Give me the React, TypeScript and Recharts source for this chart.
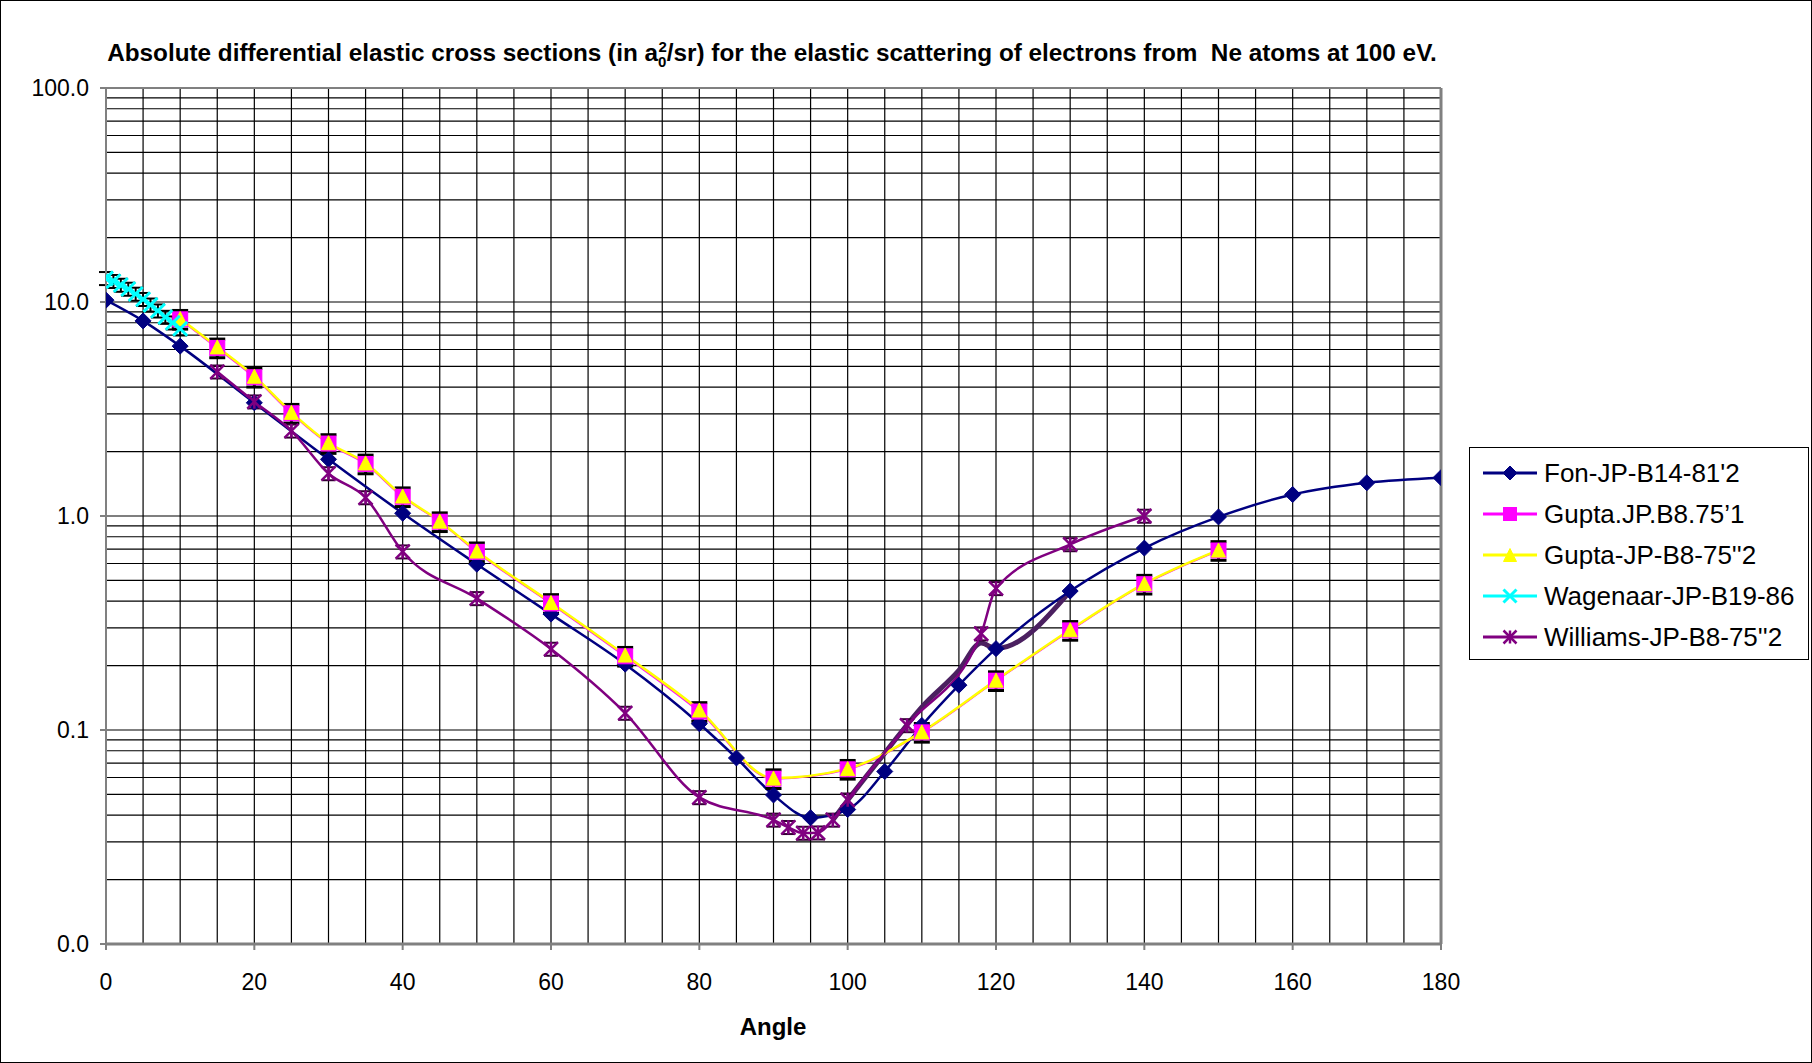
import React from "react";
import { LineChart, Line, XAxis, YAxis, CartesianGrid, ErrorBar, ReferenceLine } from "recharts";

// Fon-JP-B14-81'2
const fonAngles = [0, 5, 10, 20, 30, 40, 50, 60, 70, 80, 85, 90, 95, 100, 105, 110, 115, 120, 130, 140, 150, 160, 170, 180];
const fonValues = [10.2, 8.16, 6.22, 3.38, 1.84, 1.03, 0.595, 0.348, 0.203, 0.107, 0.074, 0.0497, 0.0389, 0.0425, 0.064, 0.105, 0.162, 0.24, 0.446, 0.708, 0.99, 1.26, 1.43, 1.51];

// Gupta (two data sets, almost on top of each other)
const guptaAngles = [10, 15, 20, 25, 30, 35, 40, 45, 50, 60, 70, 80, 90, 100, 110, 120, 130, 140, 150];
const gupta1Values = [8.3, 6.1, 4.45, 3.02, 2.18, 1.75, 1.23, 0.94, 0.68, 0.39, 0.221, 0.122, 0.0592, 0.0655, 0.0975, 0.17, 0.292, 0.48, 0.69];
const gupta2Values = [8.37, 6.17, 4.5, 3.05, 2.2, 1.77, 1.24, 0.946, 0.686, 0.394, 0.224, 0.124, 0.0596, 0.066, 0.098, 0.171, 0.294, 0.483, 0.693];

// Wagenaar-JP-B19-86
const wagenaarAngles = [0, 1, 2, 3, 4, 5, 6, 7, 8, 9, 10];
const wagenaarValues = [12.9, 12.5, 12.0, 11.5, 10.9, 10.3, 9.7, 9.1, 8.5, 8.0, 7.5];

// Williams-JP-B8-75''2
const williamsAngles = [15, 20, 25, 30, 35, 40, 50, 60, 70, 80, 90, 92, 94, 96, 98, 100, 108, 118, 120, 130, 140];
const williamsValues = [4.72, 3.42, 2.5, 1.58, 1.22, 0.681, 0.412, 0.239, 0.12, 0.0484, 0.038, 0.0351, 0.033, 0.0331, 0.038, 0.0472, 0.105, 0.282, 0.459, 0.736, 1.0];

// unlabelled thick curve (no legend entry)
const extraAngles = [98, 100, 105, 110, 115, 118, 120, 130];
const extraValues = [0.038, 0.047, 0.078, 0.128, 0.19, 0.255, 0.24, 0.446];

// error bar settings (percent of value)
const GUPTA_ERR = 0.1;
const WILLIAMS_ERR = 0.07;
const WAGENAAR_ERR = 0.07;

const yMajorTicks = [0.01, 0.1, 1, 10, 100];
const yMinorSteps = [2, 3, 4, 5, 6, 7, 8, 9];
const yGridTicks = yMajorTicks.flatMap((d) => (d === 100 ? [d] : [d, ...yMinorSteps.map((m) => +(d * m).toPrecision(3))]));
const xMajorTicks = [0, 20, 40, 60, 80, 100, 120, 140, 160, 180];
const xGridTicks = Array.from({ length: 37 }, (_, i) => i * 5);

const FONT = '"Liberation Sans", Arial, sans-serif';
const W = 1812;
const H = 1063;
const PLOT_LEFT = 106;
const PLOT_TOP = 88;
const PLOT_RIGHT = 1441;
const PLOT_BOTTOM = 944;
const Y_AXIS_W = 90;
const X_AXIS_H = 60;

const fonData = fonAngles.map((x, i) => ({ x, y: fonValues[i] }));
const gupta1Data = guptaAngles.map((x, i) => ({ x, y: gupta1Values[i], err: gupta1Values[i] * GUPTA_ERR }));
const gupta2Data = guptaAngles.map((x, i) => ({ x, y: gupta2Values[i] }));
const wagenaarData = wagenaarAngles.map((x, i) => ({ x, y: wagenaarValues[i], err: wagenaarValues[i] * WAGENAAR_ERR }));
const williamsData = williamsAngles.map((x, i) => ({ x, y: williamsValues[i], err: williamsValues[i] * WILLIAMS_ERR }));
const extraData = extraAngles.map((x, i) => ({ x, y: extraValues[i] }));

const NAVY = "#000080";
const PINK = "#FF00FF";
const YELLOW = "#FFFF00";
const CYAN = "#00FFFF";
const PURPLE = "#800080";

type M = { cx: number; cy: number; s?: number };

const Diamond = ({ cx, cy, s = 8 }: M) => (
  <polygon points={`${cx},${cy - s} ${cx + s},${cy} ${cx},${cy + s} ${cx - s},${cy}`} fill={NAVY} stroke={NAVY} />
);
const Square = ({ cx, cy, s = 7.5 }: M) => (
  <rect x={cx - s} y={cy - s} width={2 * s} height={2 * s} fill={PINK} stroke={PINK} />
);
const Triangle = ({ cx, cy, s = 7 }: M) => (
  <polygon points={`${cx},${cy - s} ${cx + s},${cy + s} ${cx - s},${cy + s}`} fill={YELLOW} stroke={YELLOW} />
);
const Cross = ({ cx, cy, s = 7 }: M) => (
  <g stroke={CYAN} strokeWidth={3}>
    <line x1={cx - s} y1={cy - s} x2={cx + s} y2={cy + s} />
    <line x1={cx - s} y1={cy + s} x2={cx + s} y2={cy - s} />
  </g>
);
const Star = ({ cx, cy, s = 7 }: M) => (
  <g stroke={PURPLE} strokeWidth={2.5}>
    <line x1={cx - s} y1={cy - s} x2={cx + s} y2={cy + s} />
    <line x1={cx - s} y1={cy + s} x2={cx + s} y2={cy - s} />
    <line x1={cx} y1={cy - s} x2={cx} y2={cy + s} />
  </g>
);

const dotOf = (Shape: any) => (p: any) =>
  p.cx == null || p.cy == null ? <g key={p.index} /> : <Shape key={p.index} cx={p.cx} cy={p.cy} />;

const YTick = (props: any) => {
  const { x, y, payload } = props;
  if (!yMajorTicks.includes(payload.value)) return <g />;
  return (
    <g>
      <line x1={PLOT_LEFT - 6} x2={PLOT_LEFT} y1={y} y2={y} stroke="#808080" strokeWidth={2} />
      <text x={x} y={y} dy="0.35em" textAnchor="end" fontSize={23} fontFamily={FONT} fill="#000">
        {payload.value.toFixed(1)}
      </text>
    </g>
  );
};

const XTick = (props: any) => {
  const { x, y, payload } = props;
  if (!xMajorTicks.includes(payload.value)) return <g />;
  return (
    <g>
      <line x1={x} x2={x} y1={PLOT_BOTTOM} y2={PLOT_BOTTOM + 6} stroke="#808080" strokeWidth={2} />
      <text x={x} y={y} dy="0.71em" textAnchor="middle" fontSize={23} fontFamily={FONT} fill="#000">
        {payload.value}
      </text>
    </g>
  );
};

const legendItems = [
  { name: "Fon-JP-B14-81'2", color: NAVY, Shape: Diamond },
  { name: "Gupta.JP.B8.75\u20191", color: PINK, Shape: Square },
  { name: "Gupta-JP-B8-75''2", color: YELLOW, Shape: Triangle },
  { name: "Wagenaar-JP-B19-86", color: CYAN, Shape: Cross },
  { name: "Williams-JP-B8-75''2", color: PURPLE, Shape: Star },
];

const ChartLegend = () => (
  <div
    style={{
      position: "absolute",
      left: 1469,
      top: 447,
      width: 340,
      height: 213,
      boxSizing: "border-box",
      border: "1.5px solid #000",
      background: "#fff",
    }}
  >
    {legendItems.map((it, i) => (
      <div key={it.name} style={{ position: "absolute", left: 0, top: 25 + i * 41 - 20, height: 40, display: "flex", alignItems: "center" }}>
        <svg width={72} height={40} style={{ display: "block" }}>
          <line x1={13} x2={67} y1={20} y2={20} stroke={it.color} strokeWidth={3} />
          <it.Shape cx={40} cy={20} s={it.Shape === Square ? 6.5 : it.Shape === Diamond ? 7 : 6.5} />
        </svg>
        <span style={{ fontFamily: FONT, fontSize: 26, color: "#000", marginLeft: 2, whiteSpace: "pre" }}>{it.name}</span>
      </div>
    ))}
  </div>
);

export default function App() {
  return (
    <div style={{ position: "absolute", left: 0, top: 0, width: W, height: H, background: "#fff", overflow: "hidden" }}>
      <div
        style={{
          position: "absolute",
          left: 0,
          top: 0,
          width: W - 2,
          height: H - 2,
          border: "1px solid #000",
        }}
      />
      <div
        style={{
          position: "absolute",
          left: 0,
          top: 39,
          width: 1544,
          textAlign: "center",
          fontFamily: FONT,
          fontWeight: 700,
          fontSize: 24.3,
          whiteSpace: "pre",
          lineHeight: "28px",
        }}
      >
        {"Absolute differential elastic cross sections (in a"}
        <sub style={{ fontSize: 15, lineHeight: 0 }}>0</sub>
        <sup style={{ fontSize: 15, lineHeight: 0, marginLeft: -8 }}>2</sup>
        {"/sr) for the elastic scattering of electrons from  Ne atoms at 100 eV."}
      </div>

      <div style={{ position: "absolute", left: 0, top: 0 }}>
        <LineChart
          width={W}
          height={H}
          margin={{ top: PLOT_TOP, right: W - PLOT_RIGHT, bottom: H - PLOT_BOTTOM - X_AXIS_H, left: PLOT_LEFT - Y_AXIS_W }}
        >
          <CartesianGrid stroke="#000" strokeWidth={1.2} />
          <XAxis
            dataKey="x"
            type="number"
            domain={[0, 180]}
            ticks={xGridTicks}
            interval={0}
            height={X_AXIS_H}
            tickSize={6}
            tickMargin={24}
            tickLine={false}
            tick={<XTick />}
            axisLine={{ stroke: "#808080", strokeWidth: 3 }}
            allowDataOverflow
          />
          <YAxis
            type="number"
            scale="log"
            domain={[0.01, 100]}
            ticks={yGridTicks}
            interval={0}
            width={Y_AXIS_W}
            tickSize={6}
            tickMargin={11}
            tickLine={false}
            tick={<YTick />}
            axisLine={{ stroke: "#808080", strokeWidth: 2 }}
            allowDataOverflow
          />
          <ReferenceLine y={100} stroke="#808080" strokeWidth={2} />
          <ReferenceLine x={180} stroke="#808080" strokeWidth={3} />

          <Line
            data={extraData}
            dataKey="y"
            type="monotone"
            stroke="#4B2060"
            strokeWidth={5}
            dot={false}
            activeDot={false}
            legendType="none"
            isAnimationActive={false}
          />
          <Line
            data={fonData}
            dataKey="y"
            name="Fon-JP-B14-81'2"
            type="monotone"
            stroke={NAVY}
            strokeWidth={2.5}
            dot={dotOf(Diamond)}
            activeDot={false}
            isAnimationActive={false}
          />
          <Line
            data={gupta1Data}
            dataKey="y"
            name="Gupta.JP.B8.75'1"
            type="monotone"
            stroke={PINK}
            strokeWidth={2}
            dot={dotOf(Square)}
            activeDot={false}
            isAnimationActive={false}
          >
            <ErrorBar dataKey="err" direction="y" width={8} stroke="#000" strokeWidth={3} isAnimationActive={false} />
          </Line>
          <Line
            data={gupta2Data}
            dataKey="y"
            name="Gupta-JP-B8-75''2"
            type="monotone"
            stroke={YELLOW}
            strokeWidth={2.5}
            dot={dotOf(Triangle)}
            activeDot={false}
            isAnimationActive={false}
          />
          <Line
            data={wagenaarData}
            dataKey="y"
            name="Wagenaar-JP-B19-86"
            type="monotone"
            stroke={CYAN}
            strokeWidth={2}
            dot={dotOf(Cross)}
            activeDot={false}
            isAnimationActive={false}
          >
            <ErrorBar dataKey="err" direction="y" width={7} stroke="#000" strokeWidth={2} isAnimationActive={false} />
          </Line>
          <Line
            data={williamsData}
            dataKey="y"
            name="Williams-JP-B8-75''2"
            type="monotone"
            stroke={PURPLE}
            strokeWidth={2.5}
            dot={dotOf(Star)}
            activeDot={false}
            isAnimationActive={false}
          >
            <ErrorBar dataKey="err" direction="y" width={7} stroke="#330033" strokeWidth={2} isAnimationActive={false} />
          </Line>
        </LineChart>
      </div>

      <div
        style={{
          position: "absolute",
          left: 673,
          top: 1013,
          width: 200,
          textAlign: "center",
          fontFamily: FONT,
          fontWeight: 700,
          fontSize: 24,
        }}
      >
        Angle
      </div>

      <ChartLegend />
    </div>
  );
}
